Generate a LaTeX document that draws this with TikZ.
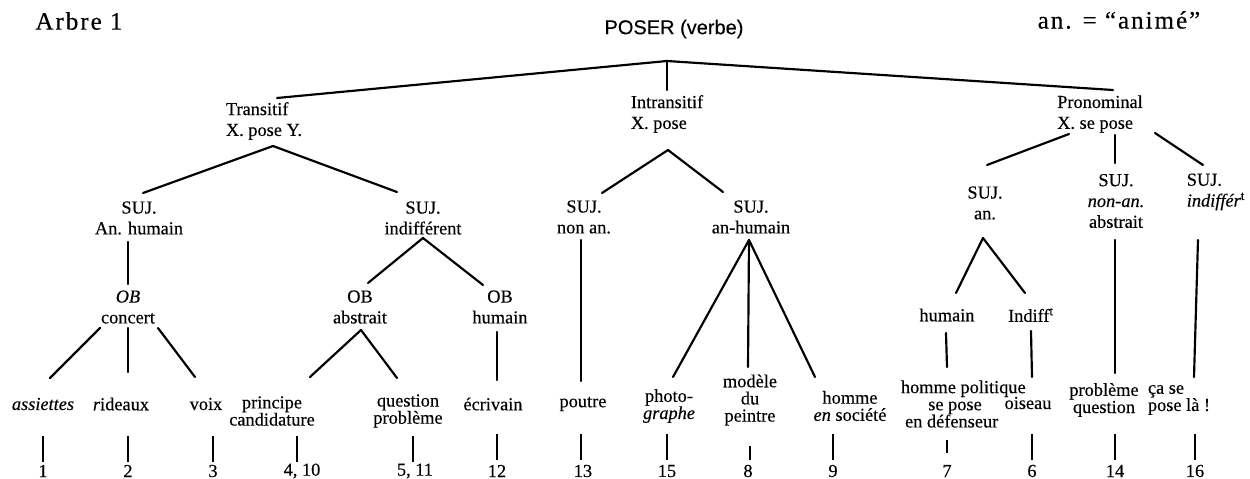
\documentclass[tikz,border=0pt]{standalone}
\usepackage{fontspec}
\setmainfont{Liberation Serif}[FakeBold=0.3]
\newfontfamily\headsans{Liberation Sans}[FakeBold=0.3]
\newfontfamily\wideserif{Liberation Serif}[LetterSpace=8, FakeBold=0.4]

\tikzset{
  lbl/.style={inner sep=0pt, align=center, font=\fontsize{11}{12.5}\selectfont},
  leaf/.style={inner sep=0pt, align=center, font=\fontsize{11}{10.3}\selectfont},
  num/.style={inner sep=0pt, font=\fontsize{11}{12}\selectfont},
  branch/.style={line width=1.3pt, line cap=round},
  tick/.style={line width=1.4pt},
}

\begin{document}
\begin{tikzpicture}[x=0.6pt, y=-0.6pt]
\useasboundingbox (0,0) rectangle (1250,479);

% headings
\node[inner sep=0pt, font=\wideserif\fontsize{15}{17}\selectfont] (title) at (79,21) {Arbre 1};
\node[inner sep=0pt, font=\wideserif\fontsize{15}{17}\selectfont] (legend) at (1119,20) {an. = “animé”};
\node[inner sep=0pt, font=\headsans\fontsize{12}{14}\selectfont] (root) at (674,29) {POSER (verbe)};

% first level
\node[lbl, align=left] (trans) at (264,121) {Transitif\\X. pose Y.};
\node[lbl, align=left] (intr)  at (667,114) {Intransitif\\X. pose};
\node[lbl, align=left] (pron)  at (1100,114) {Pronominal\\X. se pose};

% subjects
\node[lbl] (sujA)   at (139,218) {SUJ.\\An. humain};
\node[lbl] (sujB)   at (423,218) {SUJ.\\indifférent};
\node[lbl] (sujC)   at (584,217) {SUJ.\\non an.};
\node[lbl] (sujD)   at (751,217) {SUJ.\\an-humain};
\node[lbl] (sujE)   at (985,203) {SUJ.\\an.};
\node[lbl] (sujF)   at (1116,201) {SUJ.\\\textit{non-an.}\\abstrait};
\node[lbl, align=left] (sujG) at (1216,192) {SUJ.\\\textit{indiffér}\textsuperscript{t}};

% objects
\node[lbl] (obA) at (128,307) {\textit{OB}\\concert};
\node[lbl] (obB) at (360,307) {OB\\abstrait};
\node[lbl] (obC) at (500,307) {OB\\humain};
\node[lbl] (hum) at (947,315) {humain};
\node[lbl] (ind) at (1031,315) {Indiff\textsuperscript{t}};

% leaves
\node[leaf] (l1)  at (43,404)  {\textit{assiettes}};
\node[leaf] (l2)  at (121,404) {\textit{r}ideaux};
\node[leaf] (l3)  at (206,404) {voix};
\node[leaf] (l4)  at (272,411) {principe\\candidature};
\node[leaf] (l5)  at (408,411) {question\\problème};
\node[leaf] (l12) at (493,404) {écrivain};
\node[leaf] (l13) at (583,404) {poutre};
\node[leaf] (l15) at (669,406) {photo-\\\textit{graphe}};
\node[leaf] (l8)  at (750,400) {modèle\\du\\peintre};
\node[leaf] (l9)  at (850,406) {homme\\\textit{en} société};
\node[leaf] (l7)  at (955,404) {\hspace*{10pt}homme politique\\se pose\\en défenseur\hspace*{4pt}};
\node[leaf] (l6)  at (1028,403) {oiseau};
\node[leaf] (l14) at (1104,400) {problème\\question};
\node[leaf, align=left] (l16) at (1179,400) {ça se\\pose là !};

% numbers
\node[num] (n1)  at (43,471)  {1};
\node[num] (n2)  at (128,471) {2};
\node[num] (n3)  at (213,471) {3};
\node[num] (n4)  at (302,471) {4, 10};
\node[num] (n5)  at (415,471) {5, 11};
\node[num] (n12) at (497,471) {12};
\node[num] (n13) at (583,471) {13};
\node[num] (n15) at (667,471) {15};
\node[num] (n8)  at (748,471) {8};
\node[num] (n9)  at (833,471) {9};
\node[num] (n7)  at (947,471) {7};
\node[num] (n6)  at (1032,471) {6};
\node[num] (n14) at (1115,471) {14};
\node[num] (n16) at (1195,471) {16};

% branch points and line ends
\coordinate (rootfork) at (667,61);
\coordinate (transtop) at (277,98);
\coordinate (intrtop) at (667,90);
\coordinate (prontop) at (1113,90);
\coordinate (transfork) at (273,146);
\coordinate (sujAtop) at (143,193);
\coordinate (sujBtop) at (397,192);
\coordinate (sujAbot) at (128,242);
\coordinate (obAtop) at (128,284);
\coordinate (obBtop) at (368,283);
\coordinate (obCtop) at (483,285);
\coordinate (sujBfork) at (423,238);
\coordinate (obBfork) at (361,330);
\coordinate (intrfork) at (668,150);
\coordinate (sujCtop) at (602,193);
\coordinate (sujDtop) at (723,192);
\coordinate (sujDfork) at (749,240);
\coordinate (sujEfork) at (983,238);

\draw[branch] (rootfork) -- (transtop);
\draw[branch] (rootfork) -- (intrtop);
\draw[branch] (rootfork) -- (prontop);

\draw[branch] (transfork) -- (sujAtop);
\draw[branch] (transfork) -- (sujBtop);
\draw[branch] (sujAbot) -- (obAtop);
\draw[branch] (128,328) -- (128,372);
\draw[branch] (100,328) -- (50,378);
\draw[branch] (158,328) -- (195,377);

\draw[branch] (sujBfork) -- (obBtop);
\draw[branch] (sujBfork) -- (obCtop);
\draw[branch] (obBfork) -- (310,377);
\draw[branch] (obBfork) -- (397,378);
\draw[branch] (497,332) -- (497,380);

\draw[branch] (intrfork) -- (sujCtop);
\draw[branch] (intrfork) -- (sujDtop);
\draw[branch] (581,240) -- (581,381);
\draw[branch] (sujDfork) -- (673,377);
\draw[branch] (sujDfork) -- (748,367);
\draw[branch] (sujDfork) -- (815,377);

\draw[branch] (1069,134) -- (987,165);
\draw[branch] (1115,135) -- (1115,163);
\draw[branch] (1155,133) -- (1203,165);
\draw[branch] (sujEfork) -- (956,293);
\draw[branch] (sujEfork) -- (1025,293);
\draw[branch] (946,333) -- (947,367);
\draw[branch] (1031,331) -- (1032,377);
\draw[branch] (1115,240) -- (1115,373);
\draw[branch] (1198,240) -- (1194,377);

% ticks down to the numbers
\foreach \x/\a/\b in {43/436/462, 128/436/462, 213/436/462, 297/436/462, 413/436/462,
  497/434/460, 581/434/460, 667/434/460, 750/446/460, 833/434/460,
  947/440/453, 1032/434/460, 1115/434/460, 1195/434/460}
  \draw[tick] (\x,\a) -- (\x,\b);
\end{tikzpicture}
\end{document}
